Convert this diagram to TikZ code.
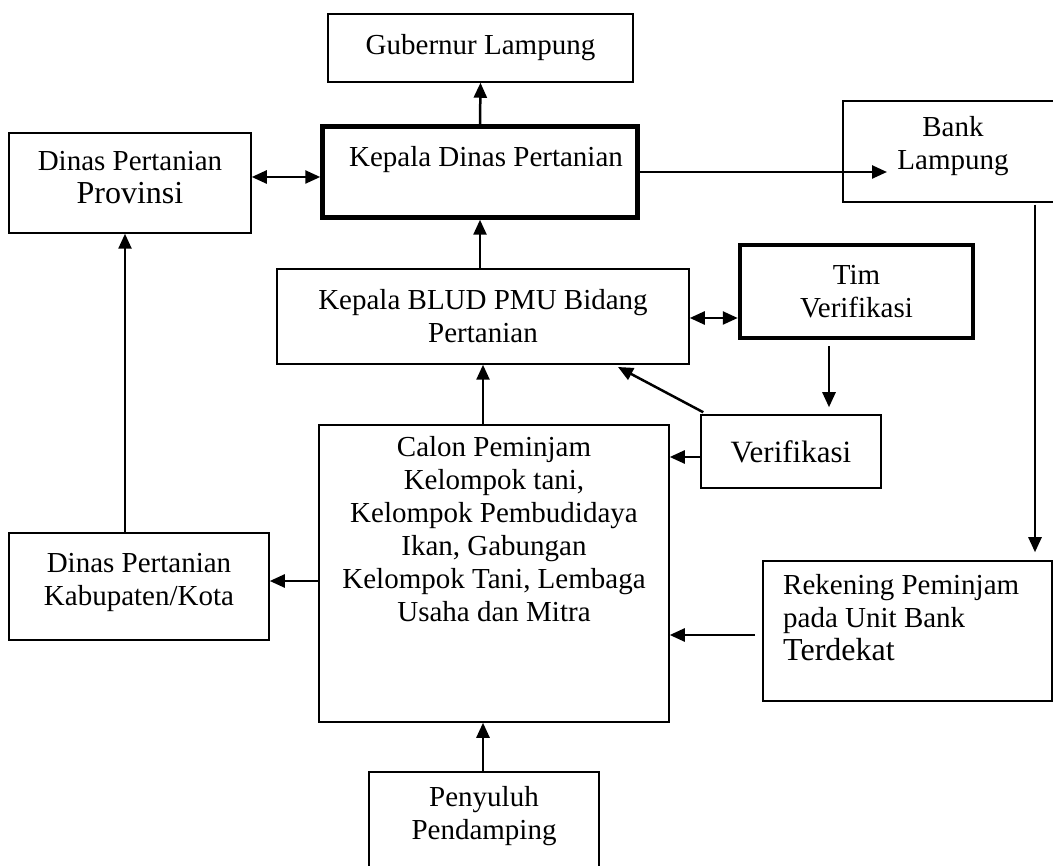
\documentclass[tikz,border=0pt]{standalone}
\usepackage{fontspec}
\setmainfont{Liberation Serif}
\usetikzlibrary{arrows.meta}
\newcommand{\myfs}{\fontsize{29}{33}\selectfont}
\newcommand{\bigfs}{\fontsize{32}{36}\selectfont}
\begin{document}
\begin{tikzpicture}[x=1pt,y=-1pt,
  box/.style={draw,line width=1.5pt,align=center,inner sep=0pt,font=\myfs},
  thickbox/.style={box,line width=4.5pt},
  arr/.style={line width=2.5pt,-{Triangle[length=15pt,width=13pt]}},
  darr/.style={line width=2.5pt,{Triangle[length=15pt,width=13pt]}-{Triangle[length=15pt,width=13pt]}},
  txt/.style={align=center,inner sep=0pt,font=\myfs}]
\useasboundingbox (0,0) rectangle (1053,866);
% boxes
\node[box,minimum width=305,minimum height=68] (gub) at (480.5,48) {Gubernur Lampung};
\node[thickbox,minimum width=315,minimum height=91] (kd) at (480,172) {};
\node[txt] (kdt) at (486,160) {Kepala Dinas Pertanian};
\node[box,minimum width=242,minimum height=100] (prov) at (130,183) {};
\node[txt] (provt) at (130,178) {Dinas Pertanian\\\bigfs Provinsi};
\node[box,minimum width=220,minimum height=101] (bank) at (953,151.5) {};
\node[txt] (bankt) at (953,146) {Bank\\Lampung};
\node[box,minimum width=412,minimum height=95] (blud) at (483,316.5) {Kepala BLUD PMU Bidang\\Pertanian};
\node[thickbox,minimum width=233,minimum height=93] (tim) at (856.5,291.5) {Tim\\Verifikasi};
\node[box,minimum width=180,minimum height=73] (ver) at (791,451.5) {\fontsize{31}{34}\selectfont Verifikasi};
\node[box,minimum width=350,minimum height=297] (calon) at (494,573.5) {};
\node[txt,anchor=north] (calont) at (494,436) {Calon Peminjam\\Kelompok tani,\\Kelompok Pembudidaya\\Ikan, Gabungan\\Kelompok Tani, Lembaga\\Usaha dan Mitra};
\node[box,minimum width=260,minimum height=107] (kab) at (139,586.5) {};
\node[txt] (kabt) at (139,582) {Dinas Pertanian\\Kabupaten/Kota};
\node[box,minimum width=289,minimum height=140] (rek) at (907.5,631) {};
\node[txt,align=left,anchor=north west] (rekt) at (783,574) {Rekening Peminjam\\pada Unit Bank\\\bigfs Terdekat};
\node[box,minimum width=230,minimum height=110] (pen) at (484,827) {};
\node[txt] (pent) at (484,816) {Penyuluh\\Pendamping};
% helper coordinates
\coordinate (py) at (0,177);
\coordinate (bk) at (887,172);
\coordinate (bx) at (1035,0);
\coordinate (ty) at (0,318);
\coordinate (vx) at (829,0);
\coordinate (vb) at (618,367);
\coordinate (ky) at (0,581);
\coordinate (kx) at (125,0);
\coordinate (ry) at (0,635);
\coordinate (rs) at (755,635);
\coordinate (cy) at (0,457);
% connectors
\draw[arr] (kd.north) -- (gub.south);
\draw[darr] (prov.east |- py) -- (kd.west |- py);
\draw[arr] (kd.east |- bk) -- (bk);
\draw[arr] ([yshift=-2pt]bank.south -| bx) -- ([yshift=8pt]rek.north -| bx);
\draw[arr] (kd.south |- blud.north) -- (kd.south);
\draw[darr] (blud.east |- ty) -- (tim.west |- ty);
\draw[arr] ([yshift=-6pt]tim.south -| vx) -- ([yshift=7pt]ver.north -| vx);
\draw[arr] ([xshift=3pt,yshift=2pt]ver.north west) -- (vb);
\draw[arr] (ver.west |- cy) -- (calon.east |- cy);
\draw[arr] (blud.south |- calon.north) -- (blud.south);
\draw[arr] (calon.west |- ky) -- (kab.east |- ky);
\draw[arr] (kab.north -| kx) -- (prov.south -| kx);
\draw[arr] (rs) -- (calon.east |- ry);
\draw[arr] (pen.north -| blud.south) -- (calon.south -| blud.south);
\end{tikzpicture}
\end{document}
